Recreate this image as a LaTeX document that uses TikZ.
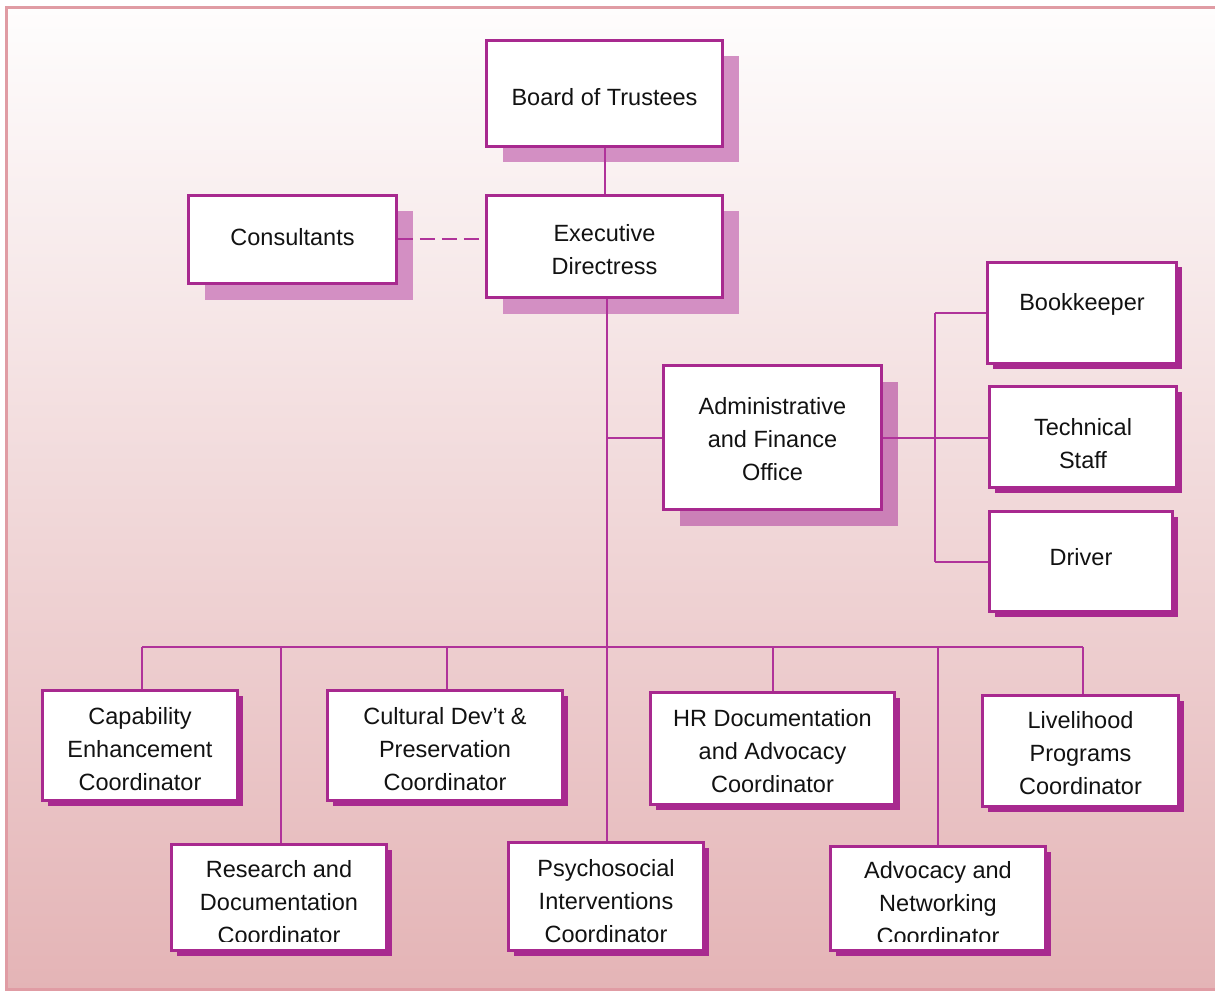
\documentclass[tikz,border=0pt]{standalone}
\usepackage{fontspec}
\setmainfont{Liberation Sans}
\usetikzlibrary{shadows,calc}
\definecolor{mag}{HTML}{A8298F}
\definecolor{linec}{HTML}{B0339A}
\definecolor{shA}{HTML}{D38FC3}
\definecolor{shB}{HTML}{CB80B7}
\definecolor{framec}{HTML}{E09CA4}
\definecolor{bgtop}{HTML}{FEFDFD}
\definecolor{bgbot}{HTML}{E4B4B6}
\tikzset{
  boxbase/.style={draw=mag, line width=2.8pt, fill=white, inner sep=0pt},
  bigbox/.style={boxbase, general shadow={fill=shA, draw=none, shadow xshift=16pt, shadow yshift=-16pt}},
  adminbox/.style={boxbase, general shadow={fill=shB, draw=none, shadow xshift=16pt, shadow yshift=-16pt}},
  smallbox/.style={boxbase, general shadow={fill=mag, draw=none, shadow xshift=5pt, shadow yshift=-5pt}},
  txt/.style={font=\fontsize{23.5}{33}\selectfont, align=center, text=black!93, inner sep=0pt},
  conn/.style={draw=linec, line width=2pt},
}
\begin{document}
\begin{tikzpicture}[x=1pt,y=-1pt]
\useasboundingbox (0,0) rectangle (1215,992);
\fill[white] (0,0) rectangle (1215,992);
\shade[top color=bgtop, bottom color=bgbot] (6,8) rectangle (1215,989);
\draw[framec, line width=3pt] (1215,8) -- (6,8) -- (6,989) -- (1215,989);

% boxes
\node[bigbox, minimum width=236, minimum height=106] (board) at (604.5,93.5) {};
\node[bigbox, minimum width=236, minimum height=102] (exec) at (604.5,246.5) {};
\node[bigbox, minimum width=208, minimum height=88] (cons) at (292.5,239.5) {};
\node[adminbox, minimum width=218, minimum height=144] (admin) at (772.5,437.5) {};
\node[smallbox, minimum width=189, minimum height=101] (book) at (1082,313) {};
\node[smallbox, minimum width=187, minimum height=101] (tech) at (1083,437) {};
\node[smallbox, minimum width=183, minimum height=100] (driver) at (1081,561.5) {};
\node[smallbox, minimum width=195, minimum height=110] (cap) at (140,745.5) {};
\node[smallbox, minimum width=215, minimum height=106] (res) at (279,897.5) {};
\node[smallbox, minimum width=235, minimum height=110] (cult) at (445,745.5) {};
\node[smallbox, minimum width=195, minimum height=108] (psy) at (606,896.5) {};
\node[smallbox, minimum width=244, minimum height=112] (hr) at (772.5,748.5) {};
\node[smallbox, minimum width=215, minimum height=104] (adv) at (938,898.5) {};
\node[smallbox, minimum width=196, minimum height=111] (live) at (1080.5,751) {};

% texts
\node[txt] (board-t) at (604.5,97) {Board of Trustees};
\node[txt] (exec-t) at (604.5,249.5) {Executive\\Directress};
\node[txt] (cons-t) at (292.5,237) {Consultants};
\node[txt] (admin-t) at (772.5,439) {Administrative\\and Finance\\Office};
\node[txt] (book-t) at (1082,304) {Bookkeeper};
\node[txt] (tech-t) at (1083,443.5) {Technical\\Staff};
\node[txt] (driver-t) at (1081,557) {Driver};
\node[txt] (cap-t) at (140,749) {Capability\\Enhancement\\Coordinator};
\node[txt] (res-t) at (279,902) {Research and\\Documentation\\Coordinator};
\node[txt] (cult-t) at (445,749) {Cultural Dev’t \&\\Preservation\\Coordinator};
\node[txt] (psy-t) at (606,901) {Psychosocial\\Interventions\\Coordinator};
\node[txt] (hr-t) at (772.5,751) {HR Documentation\\and Advocacy\\Coordinator};
\node[txt] (adv-t) at (938,903) {Advocacy and\\Networking\\Coordinator};
\node[txt] (live-t) at (1080.5,753) {Livelihood\\Programs\\Coordinator};

% clipped text bottoms
\fill[white] ($(res.south west)+(3,-10)$) rectangle ($(res.south east)+(-3,-2.8)$);
\fill[white] ($(adv.south west)+(3,-10)$) rectangle ($(adv.south east)+(-3,-2.8)$);

% connectors
\coordinate (sp) at (607,0);
\coordinate (afx) at (935,0);
\coordinate (busy) at (0,647);
\coordinate (resx) at (281,0);
\coordinate (cultx) at (447,0);
\coordinate (capx) at (142,0);
\coordinate (livex) at (1083,0);
\draw[conn] (board.south) -- (exec.north);
\draw[conn, dash pattern=on 15pt off 7pt] (cons.east) -- (cons.east -| exec.west);
\draw[conn] (exec.south -| sp) -- (psy.north -| sp);
\draw[conn] (admin.west -| sp) -- (admin.west);
\draw[conn] (admin.east) -- (tech.west |- admin.east);
\draw[conn] (afx |- book.west) -- (afx |- driver.west);
\draw[conn] (afx |- book.west) -- (book.west);
\draw[conn] (afx |- driver.west) -- (driver.west);
\draw[conn] (busy -| capx) -- (busy -| livex);
\draw[conn] (busy -| capx) -- (cap.north -| capx);
\draw[conn] (busy -| resx) -- (res.north -| resx);
\draw[conn] (busy -| cultx) -- (cult.north -| cultx);
\draw[conn] (busy -| hr.north) -- (hr.north);
\draw[conn] (busy -| adv.north) -- (adv.north);
\draw[conn] (busy -| livex) -- (live.north -| livex);
\end{tikzpicture}
\end{document}
